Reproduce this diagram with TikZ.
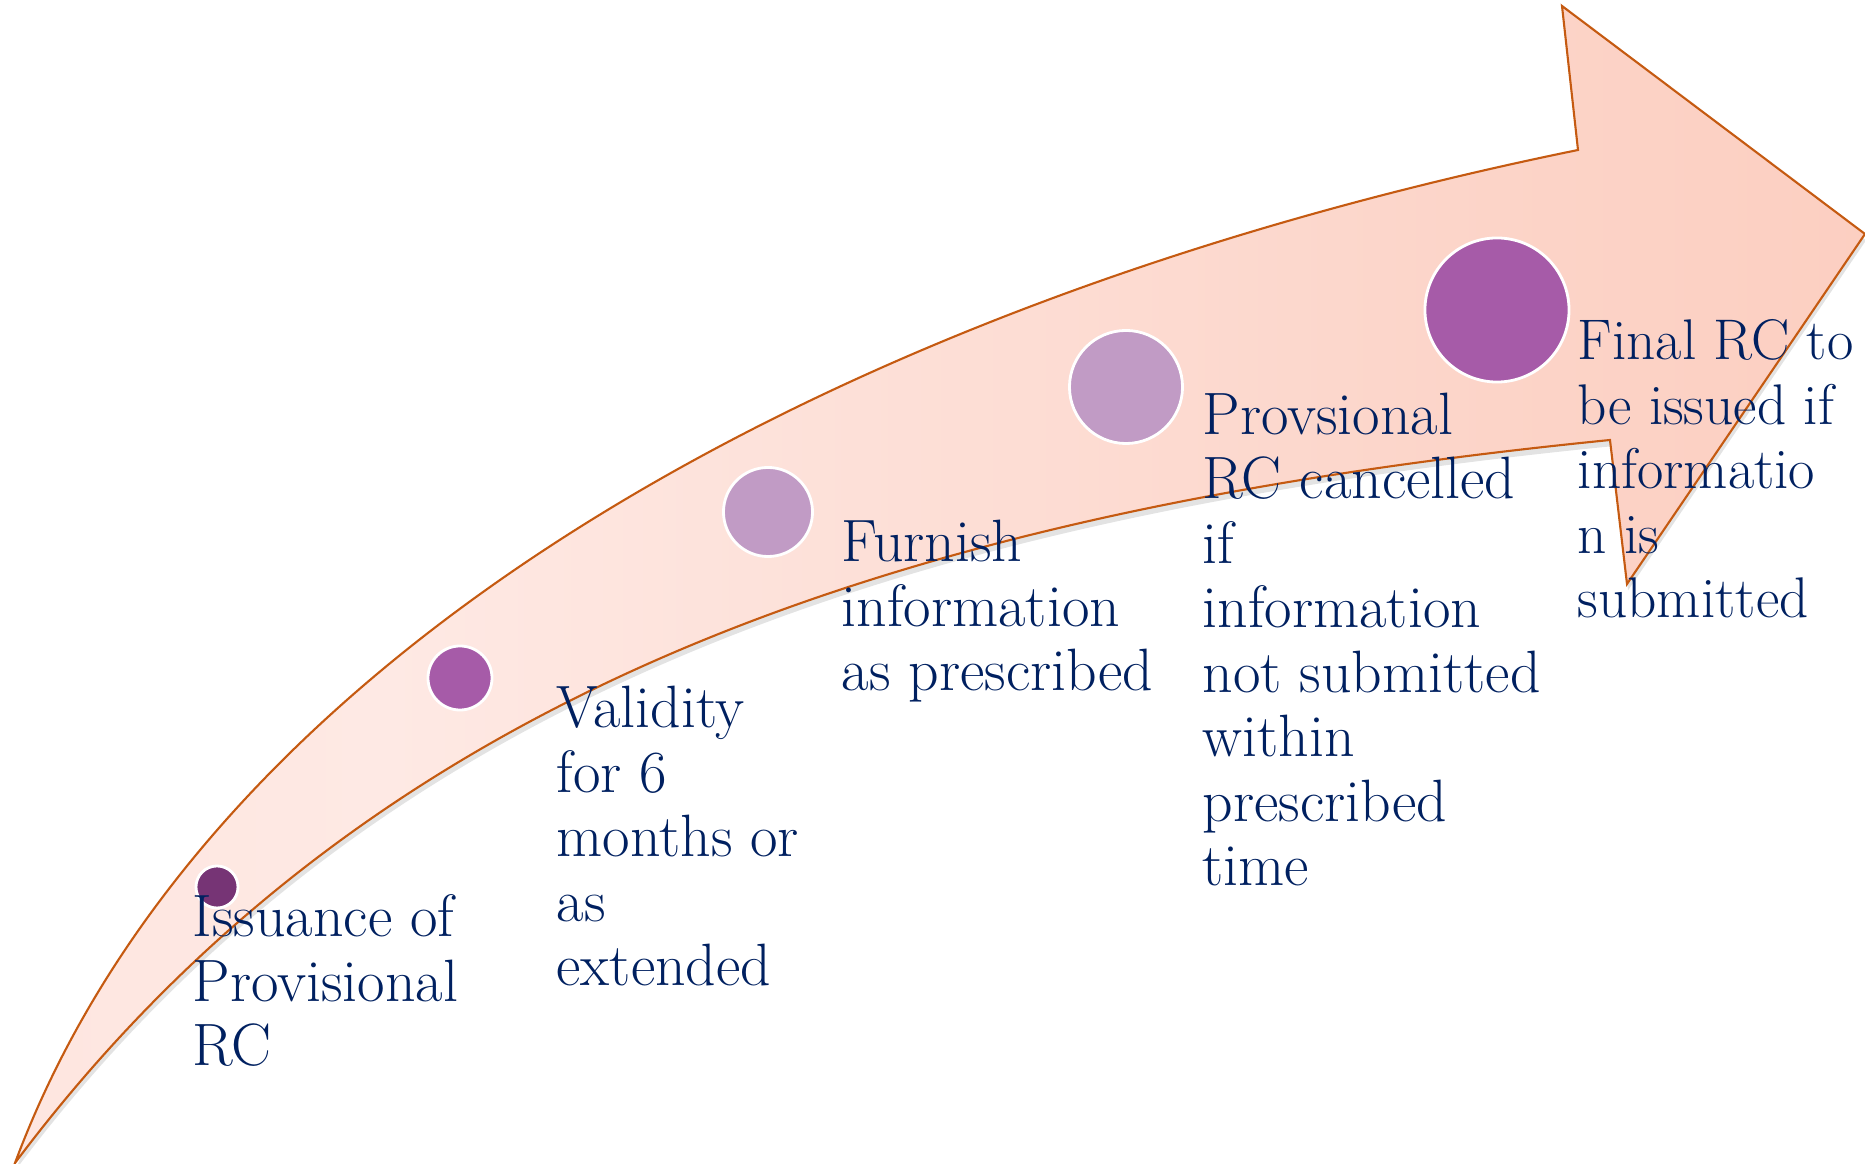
\documentclass[tikz,border=0pt]{standalone}
\usetikzlibrary{shadows}
\definecolor{arrowline}{RGB}{197,90,17}
\definecolor{txtblue}{RGB}{0,32,96}
\definecolor{dotdark}{RGB}{118,52,117}
\definecolor{dotmid}{RGB}{166,91,168}
\definecolor{dotlight}{RGB}{193,155,197}
\definecolor{tailpink}{RGB}{253,222,213}
\definecolor{midpink}{RGB}{254,233,228}
\definecolor{lowpink}{RGB}{252,212,200}
\definecolor{headpink}{RGB}{251,194,176}
\pgfdeclarehorizontalshading{arrowfill}{100bp}{color(0bp)=(tailpink);
 color(35bp)=(midpink); color(65bp)=(lowpink); color(100bp)=(headpink)}
\tikzset{
 dot/.style={circle, draw=white, line width=0.8pt, inner sep=0pt, minimum size=#1},
 lbl/.style={anchor=base west, inner sep=0pt, align=left, text=txtblue,
  font=\fontsize{17}{18.35}\selectfont}
}
\begin{document}
\begin{tikzpicture}[x=0.01cm, y=-0.01cm]
\useasboundingbox (0,0) rectangle (1865,1164);
\path[draw=arrowline, line width=0.6pt, shade, shading=arrowfill,
 drop shadow={opacity=0.22, shadow xshift=0.3pt, shadow yshift=-1.8pt}]
 (15,1163) .. controls (207.5,646) and (843,300) .. (1578,150)
 -- (1562,6) -- (1865,234) -- (1627,584) -- (1610,440)
 .. controls (910,510) and (375,683) .. (15,1163) -- cycle;
 \foreach \n/\x/\y/\d/\c in {1/217/887/0.42/dotdark, 2/460/678/0.64/dotmid,
  3/768/512/0.89/dotlight, 4/1126/387/1.13/dotlight, 5/1497/310/1.44/dotmid}
 \node[dot=\d cm, fill=\c] (dot\n) at (\x,\y) {};
\node[lbl] (lbl1) at (192,1066) {Issuance of\\Provisional\\RC};
\node[lbl] (lbl2) at (556,986) {Validity\\for 6\\months or\\as\\extended};
\node[lbl] (lbl3) at (841,691) {Furnish\\information\\as prescribed};
\node[lbl] (lbl4) at (1202,886) {Provsional\\RC cancelled\\if\\information\\not submitted\\within\\prescribed\\time};
\node[lbl, font=\fontsize{16.3}{18.35}\selectfont] (lbl5) at (1577,618)
 {Final RC to\\be issued if\\informatio\\n is\\submitted};
\end{tikzpicture}
\end{document}
